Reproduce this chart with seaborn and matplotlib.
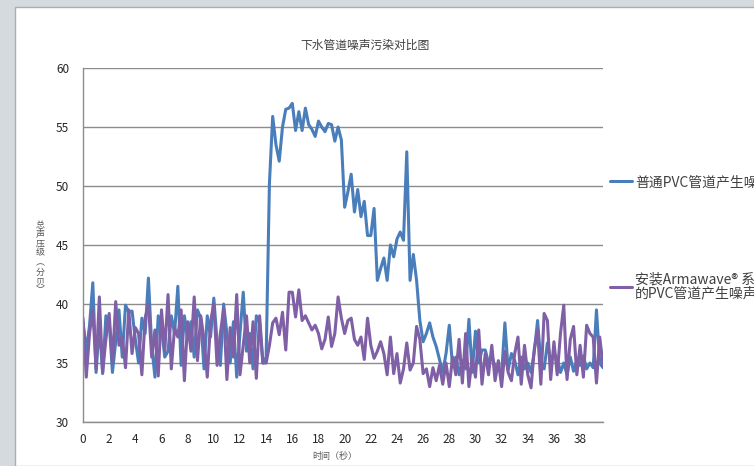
import numpy as np
import pandas as pd
import matplotlib.pyplot as plt
import seaborn as sns
from matplotlib.patches import Rectangle

# time in seconds (0.25 s sampling)
time_s = np.arange(160) * 0.25

# normal PVC pipe noise (dB)
pvc_normal = [
    38.5, 36.0, 38.2, 41.8, 34.2, 38.3, 34.1, 39.0, 38.5, 34.2,
    36.8, 39.5, 35.5, 39.9, 39.3, 39.4, 37.0, 35.0, 38.8, 37.5,
    42.2, 36.5, 33.8, 39.0, 38.0, 35.5, 36.0, 39.0, 37.5, 41.5,
    34.8, 39.0, 37.0, 38.5, 35.5, 39.5, 38.8, 34.5, 39.0, 37.2,
    40.5, 36.8, 34.8, 40.0, 37.5, 35.0, 38.5, 33.8, 37.5, 41.0,
    36.0, 37.5, 34.5, 39.0, 38.4, 35.0, 35.5, 50.2, 55.9, 53.5,
    52.1, 55.0, 56.5, 56.6, 57.0, 54.7, 56.3, 54.7, 56.6, 55.2,
    54.8, 54.2, 55.5, 55.0, 54.6, 55.3, 55.2, 53.8, 55.0, 53.9,
    48.2, 49.5, 51.0, 47.8, 49.7, 47.4, 48.7, 45.8, 45.8, 48.1,
    42.0, 43.0, 43.9, 42.0, 45.0, 44.0, 45.5, 46.1, 45.4, 52.9,
    42.0, 44.2, 42.0, 38.6, 36.8, 37.5, 38.4, 37.2, 36.4, 35.3,
    34.2, 35.8, 38.2, 34.7, 35.5, 34.0, 35.2, 34.5, 38.7, 34.2,
    37.7, 35.0, 36.1, 36.1, 35.0, 35.6, 34.7, 34.5, 34.1, 38.4,
    34.4, 35.8, 35.2, 34.0, 35.5, 34.5, 35.0, 34.2, 36.0, 38.6,
    35.0, 34.5, 36.7, 35.2, 35.8, 35.4, 34.2, 35.0, 34.0, 35.5,
    34.3, 35.2, 34.8, 35.6, 34.5, 35.0, 34.6, 39.5, 35.0, 34.6,
]

# PVC pipe with Armawave system (dB)
pvc_armawave = [
    38.8, 33.8, 37.5, 39.5, 34.5, 40.6, 34.2, 37.0, 39.2, 35.0,
    40.2, 36.5, 37.2, 34.6, 39.5, 35.8, 38.0, 37.5, 34.0, 38.8,
    40.0, 35.5, 37.8, 33.9, 39.5, 36.0, 40.8, 34.5, 38.0, 37.2,
    39.5, 33.5, 38.5, 36.0, 40.6, 35.2, 39.0, 37.0, 33.8, 38.5,
    40.0, 34.8, 37.5, 39.6, 33.6, 38.0, 35.5, 40.8, 34.0, 36.5,
    39.0, 35.0, 38.5, 33.7, 39.0, 35.0, 35.0, 36.5, 38.4, 38.8,
    37.4, 39.3, 36.1, 41.0, 41.0, 38.9, 41.2, 38.6, 39.0, 38.4,
    37.8, 38.2, 37.5, 36.2, 37.0, 38.9, 36.4, 37.5, 40.6, 38.8,
    37.5, 38.6, 38.8, 37.0, 36.5, 37.2, 35.3, 38.8, 36.5, 35.4,
    36.0, 36.8, 35.8, 34.0, 37.2, 34.1, 35.8, 33.3, 34.5, 36.7,
    34.4, 35.0, 38.1, 37.0, 34.1, 34.5, 33.0, 34.6, 33.5, 34.8,
    33.2, 35.0, 33.0, 35.5, 34.0, 37.0, 33.3, 37.5, 33.0, 35.5,
    33.8, 37.8, 33.2, 35.8, 34.0, 36.5, 33.5, 35.2, 33.0, 36.0,
    34.2, 33.5, 35.8, 37.2, 33.2, 36.5, 34.0, 32.9, 36.2, 37.8,
    33.2, 39.2, 38.6, 33.6, 36.8, 34.0, 37.5, 39.9, 33.6, 37.0,
    38.1, 34.0, 36.5, 33.8, 38.2, 37.5, 37.2, 33.3, 37.2, 34.8,
]

series_names = ['普通PVC管道产生噪声', '安装Armawave® 系统\n的PVC管道产生噪声']
line_colors = ['#4a7ebb', '#7f5fa5']

df = pd.DataFrame({
    'time': np.concatenate([time_s, time_s]),
    'db': pvc_normal + pvc_armawave,
    'series': [series_names[0]] * len(time_s) + [series_names[1]] * len(time_s),
})

sns.set_theme(style='white')
plt.rcParams['font.family'] = ['Noto Sans CJK SC', 'DejaVu Sans']

fig = plt.figure(figsize=(7.54, 4.66), dpi=100)
fig.patch.set_facecolor('#d5dadf')
# white chart panel inside the gray window frame
fig.patches.append(Rectangle((15 / 754, 0), 1, 1 - 7 / 466, transform=fig.transFigure,
                             facecolor='white', edgecolor='#a9adb1', linewidth=1.0, zorder=-1))

ax = fig.add_axes([83 / 754, 1 - 422 / 466, 520 / 754, 354 / 466])
ax.set_zorder(2)
ax.set_facecolor('white')

sns.lineplot(data=df, x='time', y='db', hue='series', palette=line_colors,
             linewidth=2.2, ax=ax, legend=False, sort=False)

ax.set_xlim(0, 39.75)
ax.set_ylim(30, 60)
ax.set_xticks(np.arange(0, 39, 2))
ax.set_yticks(np.arange(30, 61, 5))
ax.yaxis.grid(True, color='#8c8c8c', linewidth=1.0)
ax.set_axisbelow(True)
for side in ['top', 'right']:
    ax.spines[side].set_visible(False)
for side in ['left', 'bottom']:
    ax.spines[side].set_color('#8c8c8c')
    ax.spines[side].set_linewidth(1.0)
ax.tick_params(axis='both', length=0, labelsize=8.5, labelcolor='#262626')
ax.tick_params(axis='y', pad=10)
ax.tick_params(axis='x', pad=8)

ax.set_xlabel('时间（秒）', fontsize=6.5, color='#595959')
ax.xaxis.set_label_coords((335 - 83) / 520, -0.085)
ax.set_ylabel('')
fig.text(40 / 754, 1 - 258 / 466, '总\n声\n压\n级\n︵\n分\n贝\n︶', fontsize=6.5,
         color='#595959', ha='center', va='center', linespacing=1.05)

fig.text(365 / 754, 1 - 45 / 466, '下水管道噪声污染对比图', fontsize=8.5,
         color='#404040', ha='center', va='center')

handles = [plt.Line2D([], [], color=c, linewidth=2.2) for c in line_colors]
leg = fig.legend(handles, series_names, loc='upper left', bbox_to_anchor=(610 / 754, 1 - 175 / 466),
                 frameon=False, fontsize=10, labelcolor='#404040', handlelength=1.6,
                 handletextpad=0.2, labelspacing=6.0, borderpad=0, borderaxespad=0)
for t in leg.get_texts():
    t.set_linespacing(1.0)

fig.savefig('out.png', dpi=100, facecolor=fig.get_facecolor())
